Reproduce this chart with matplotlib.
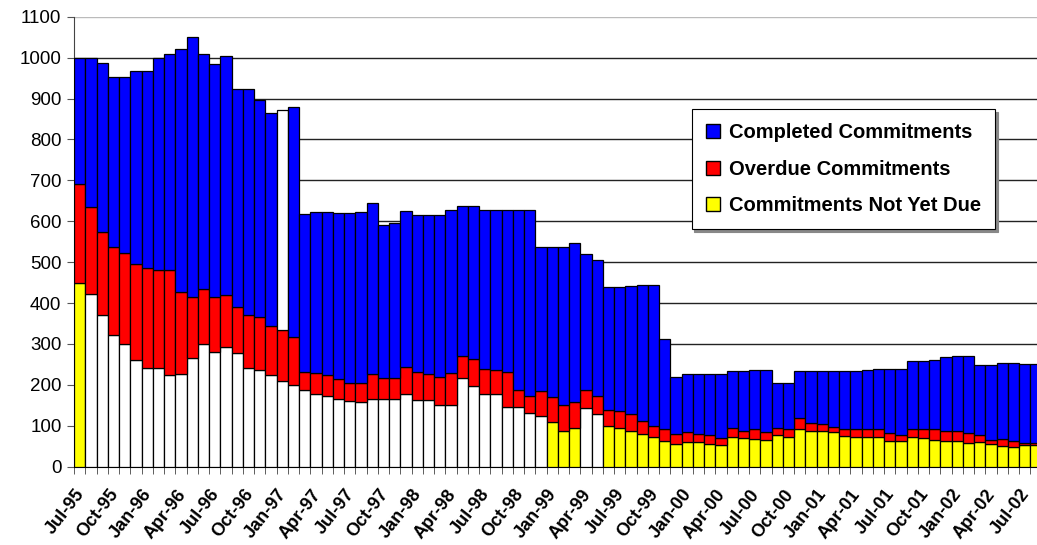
import numpy as np
import pandas as pd
import matplotlib
matplotlib.use("Agg")
import matplotlib.pyplot as plt
import matplotlib.transforms as mtransforms
from matplotlib.patches import Patch

plt.rcParams['font.family'] = ['Liberation Sans', 'DejaVu Sans']

# monthly data, Jul-95 .. Aug-02
months = pd.date_range("1995-07-01", periods=86, freq="MS").strftime("%b-%y").tolist()

not_yet_due = [448, 421, 372, 321, 299, 260, 241, 241, 223, 226, 265, 300, 280, 292, 277, 241,
               236, 223, 210, 200, 187, 178, 174, 165, 161, 159, 165, 165, 165, 177, 164, 164,
               150, 152, 217, 197, 177, 177, 147, 147, 132, 125, 110, 88, 95, 144, 129, 100,
               95, 88, 79, 72, 64, 55, 60, 60, 55, 52, 73, 69, 67, 65, 78, 72, 91, 88,
               88, 86, 76, 73, 72, 72, 64, 64, 72, 69, 66, 64, 64, 59, 61, 55, 50, 47, 52, 52]
overdue = [244, 214, 201, 217, 223, 235, 244, 241, 259, 200, 151, 135, 134, 127, 113, 129,
           129, 121, 125, 118, 45, 52, 51, 50, 44, 46, 62, 52, 52, 66, 68, 63,
           70, 78, 53, 66, 63, 59, 85, 41, 42, 59, 60, 64, 62, 44, 44, 38,
           41, 42, 32, 28, 27, 24, 26, 21, 22, 17, 21, 19, 24, 21, 16, 19, 27, 20,
           17, 11, 17, 20, 19, 19, 19, 14, 19, 22, 25, 24, 24, 24, 16, 11, 17, 17, 7, 7]
completed = [308, 363, 415, 415, 431, 472, 482, 518, 527, 594, 634, 573, 570, 584, 533, 553,
             532, 520, 536, 562, 385, 393, 398, 405, 415, 418, 418, 373, 378, 381, 383, 388,
             395, 397, 368, 375, 387, 391, 395, 439, 453, 352, 366, 384, 391, 332, 332, 301,
             303, 311, 332, 343, 221, 140, 140, 145, 149, 157, 140, 147, 146, 151, 111, 114, 117, 127,
             128, 136, 140, 140, 145, 149, 157, 162, 167, 167, 171, 179, 183, 188, 171, 182, 187, 190, 191, 191]

# months whose segments were drawn unfilled (white) in the original
white_not_yet_due = list(range(1, 42)) + [45, 46]
white_completed = [18]

x = np.arange(len(months))
nyd = np.array(not_yet_due)
od = np.array(overdue)
cm = np.array(completed)

c_nyd = ['white' if i in white_not_yet_due else '#FFFF00' for i in x]
c_cm = ['white' if i in white_completed else '#0000FF' for i in x]

fig = plt.figure(figsize=(10.37, 5.45), dpi=100)
ax = fig.add_axes([74 / 1037, 78.3 / 545, 967.5 / 1037, 450 / 545])

ax.bar(x, nyd, width=1.0, color=c_nyd, edgecolor='black', linewidth=0.9, zorder=3)
ax.bar(x, od, width=1.0, bottom=nyd, color='#FF0000', edgecolor='black', linewidth=0.9, zorder=3)
ax.bar(x, cm, width=1.0, bottom=nyd + od, color=c_cm, edgecolor='black', linewidth=0.9, zorder=3)

ax.set_xlim(-0.5, len(months) - 0.5)
ax.set_ylim(0, 1100)
ax.set_yticks(range(0, 1101, 100))
ax.yaxis.grid(True, color='#222222', linewidth=1.0, zorder=0)
ax.set_axisbelow(True)
ax.tick_params(axis='y', labelsize=13.5, length=5, color='#555555', pad=4)

ax.set_xticks(x[::3])
ax.set_xticklabels(months[::3], rotation=52, ha='right', rotation_mode='anchor',
                   fontsize=13, fontweight='bold')
ax.set_xticks(np.arange(-0.5, len(months), 1), minor=True)
ax.tick_params(axis='x', which='major', length=0, pad=14)
ax.tick_params(axis='x', which='minor', length=5, color='#444444')
shift = mtransforms.ScaledTranslation(-5 / 100, 0, fig.dpi_scale_trans)
for lab in ax.get_xticklabels():
    lab.set_transform(lab.get_transform() + shift)

fig.canvas.draw()
ax.yaxis.get_gridlines()[-1].set_color('#bbbbbb')

for s in ['top', 'right']:
    ax.spines[s].set_visible(False)
ax.spines['left'].set_color('#444444')
ax.spines['bottom'].set_color('black')

handles = [Patch(facecolor='#0000FF', edgecolor='black', label='Completed Commitments'),
           Patch(facecolor='#FF0000', edgecolor='black', label='Overdue Commitments'),
           Patch(facecolor='#FFFF00', edgecolor='black', label='Commitments Not Yet Due')]
leg = ax.legend(handles=handles, loc='upper left', bbox_to_anchor=(0.6384, 0.794),
                borderaxespad=0, frameon=True, fancybox=False,
                shadow={'color': '#888888', 'alpha': 1},
                prop={'size': 14.5, 'weight': 'bold'}, handlelength=0.7, handleheight=0.7,
                handletextpad=0.45, labelspacing=0.85, borderpad=0.7)
leg.get_frame().set_edgecolor('black')
leg.get_frame().set_linewidth(0.8)
leg.set_zorder(5)

fig.savefig("out.png", dpi=100)
